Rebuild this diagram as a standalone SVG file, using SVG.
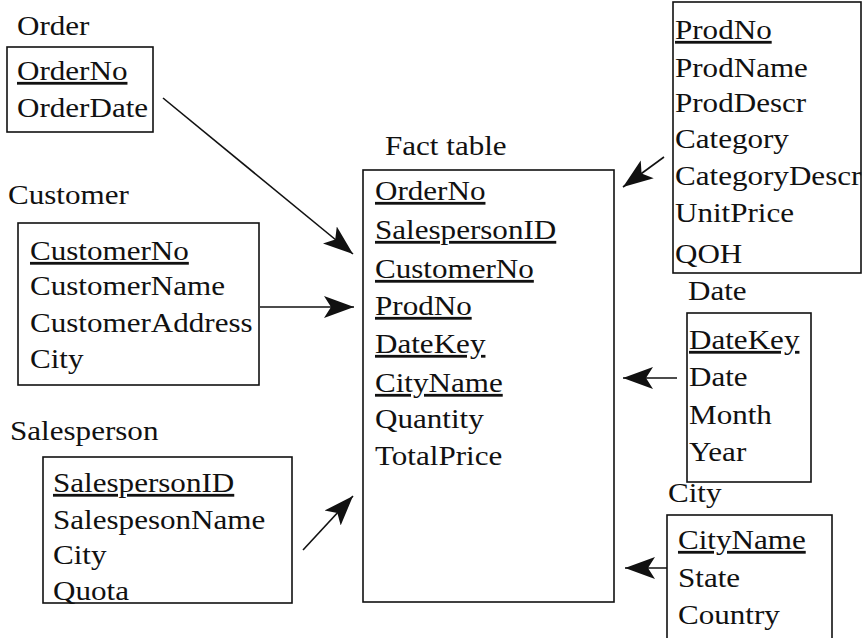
<svg xmlns="http://www.w3.org/2000/svg" width="862" height="638" viewBox="0 0 862 638">
<defs>
<style>
text{font-family:"Liberation Serif","Times New Roman",serif;font-size:28px;fill:#111;transform-box:fill-box;transform-origin:0 0;transform:scaleX(1.11)}
.k{text-decoration:underline}
.b{fill:none;stroke:#111;stroke-width:1.6}
.c line{stroke:#111;stroke-width:1.6;marker-end:url(#ah)}
</style>
<marker id="ah" markerUnits="userSpaceOnUse" markerWidth="32" markerHeight="24" refX="30" refY="12" orient="auto">
<path d="M0,1 L30,12 L0,23 L7,12 z" fill="#111"/>
</marker>
</defs>
<rect width="862" height="638" fill="#fff"/>
<g id="order">
<text x="17" y="35">Order</text>
<rect class="b" x="7" y="47" width="146" height="85"/>
<text x="17" y="80" class="k">OrderNo</text>
<text x="17" y="117">OrderDate</text>
</g>
<g id="customer">
<text x="8" y="204">Customer</text>
<rect class="b" x="18" y="223" width="241" height="162"/>
<text x="30" y="260" class="k">CustomerNo</text>
<text x="30" y="295">CustomerName</text>
<text x="30" y="332">CustomerAddress</text>
<text x="30" y="368">City</text>
</g>
<g id="salesperson">
<text x="10" y="440">Salesperson</text>
<rect class="b" x="43" y="457" width="249" height="146"/>
<text x="53" y="492" class="k">SalespersonID</text>
<text x="53" y="529">SalespesonName</text>
<text x="53" y="564">City</text>
<text x="53" y="600">Quota</text>
</g>
<g id="fact">
<text x="385" y="155">Fact table</text>
<rect class="b" x="363" y="170" width="251" height="432"/>
<text x="375" y="200" class="k">OrderNo</text>
<text x="375" y="239" class="k">SalespersonID</text>
<text x="375" y="278" class="k">CustomerNo</text>
<text x="375" y="315" class="k">ProdNo</text>
<text x="375" y="353" class="k">DateKey</text>
<text x="375" y="392" class="k">CityName</text>
<text x="375" y="428">Quantity</text>
<text x="375" y="465">TotalPrice</text>
</g>
<g id="product">
<rect class="b" x="673" y="2" width="188" height="271"/>
<text x="675" y="39" class="k">ProdNo</text>
<text x="675" y="77">ProdName</text>
<text x="675" y="112">ProdDescr</text>
<text x="675" y="148">Category</text>
<text x="675" y="185">CategoryDescr</text>
<text x="675" y="222">UnitPrice</text>
<text x="675" y="263">QOH</text>
</g>
<g id="date">
<text x="688" y="300">Date</text>
<rect class="b" x="687" y="313" width="124" height="169"/>
<text x="689" y="349" class="k">DateKey</text>
<text x="689" y="386">Date</text>
<text x="689" y="424">Month</text>
<text x="689" y="461">Year</text>
</g>
<g id="city">
<text x="668" y="502">City</text>
<rect class="b" x="667" y="515" width="165" height="130"/>
<text x="678" y="549" class="k">CityName</text>
<text x="678" y="587">State</text>
<text x="678" y="624">Country</text>
</g>
<g id="connectors" class="c">
<line x1="163" y1="98" x2="353" y2="254"/>
<line x1="260" y1="307" x2="354" y2="307"/>
<line x1="303" y1="550" x2="353" y2="496"/>
<line x1="664" y1="157" x2="623" y2="187"/>
<line x1="677" y1="378" x2="623" y2="378"/>
<line x1="667" y1="568" x2="625" y2="568"/>
</g>
</svg>
